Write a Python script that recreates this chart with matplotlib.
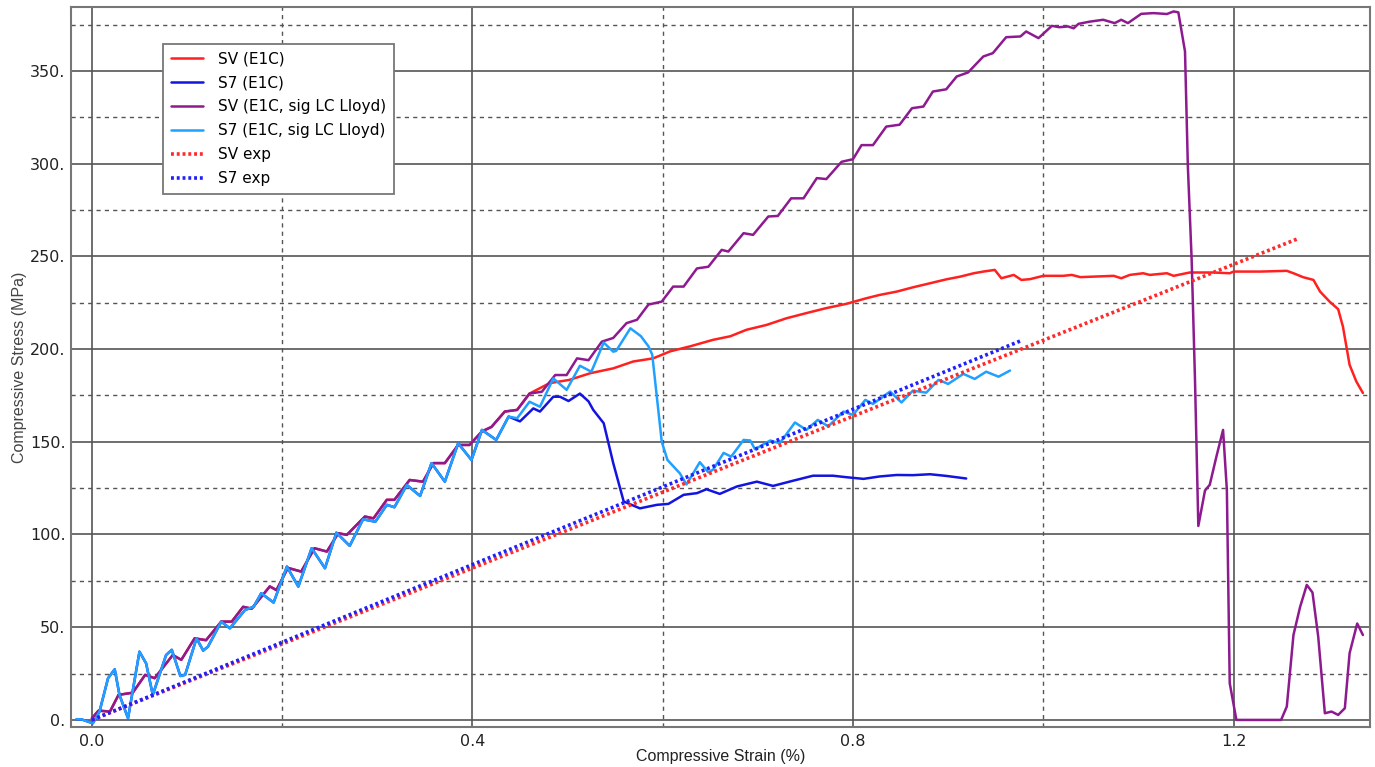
import matplotlib
matplotlib.use('Agg')
import matplotlib.pyplot as plt
from matplotlib.ticker import MultipleLocator, FuncFormatter

# SV curves share the first part (E1C and sig LC Lloyd overlap)
sv_common_x = [0, 0.007, 0.019, 0.028, 0.043, 0.056, 0.066, 0.085, 0.094, 0.108, 0.12, 0.136, 0.147,
               0.159, 0.168, 0.187, 0.194, 0.206, 0.22, 0.234, 0.247, 0.259, 0.268, 0.287, 0.296, 0.31,
               0.318, 0.334, 0.348, 0.359, 0.371, 0.385, 0.397, 0.41, 0.42, 0.434, 0.447, 0.46]
sv_common_y = [0.9, 5, 4.5, 13.5, 14.7, 24.3, 22.5, 35, 32.4, 44, 43, 53, 53, 61, 60, 72, 70, 82, 80,
               92.6, 90.8, 100.7, 99.8, 109.7, 108.7, 118.7, 118.7, 129.4, 128.5, 138.5, 138.5, 148.3,
               148.3, 155.6, 158, 166.3, 167.2, 176]

sv_tail_x = [0.481, 0.502, 0.524, 0.548, 0.569, 0.59, 0.608, 0.629, 0.653, 0.671, 0.688, 0.709, 0.73,
             0.751, 0.772, 0.793, 0.814, 0.828, 0.846, 0.863, 0.881, 0.898, 0.913, 0.927, 0.937, 0.949,
             0.956, 0.969, 0.977, 0.986, 1.0, 1.021, 1.03, 1.039, 1.074, 1.082, 1.091, 1.105, 1.112,
             1.13, 1.137, 1.154, 1.179, 1.196, 1.2, 1.228, 1.256, 1.263, 1.273, 1.284, 1.291, 1.301,
             1.31, 1.315, 1.322, 1.329, 1.336]
sv_tail_y = [181.6, 183.4, 187, 189.6, 193.3, 195, 198.8, 201.5, 205, 206.9, 210.4, 213, 216.6, 219.4,
             222.1, 224.4, 227.4, 229.2, 231, 233.3, 235.5, 237.6, 239.1, 240.9, 241.8, 242.7, 238.2,
             240, 237.3, 237.7, 239.5, 239.5, 240, 238.8, 239.5, 238.2, 240, 240.9, 240, 240.9, 239.5,
             241.3, 241.3, 240.9, 241.8, 241.8, 242.2, 240.9, 238.8, 237.3, 231, 225.6, 221.5, 212.1,
             191.5, 182.6, 176.3]

svl_tail_x = [0.473, 0.487, 0.499, 0.51, 0.522, 0.536, 0.548, 0.562, 0.573, 0.585, 0.599, 0.611, 0.622,
              0.636, 0.648, 0.662, 0.669, 0.685, 0.695, 0.711, 0.721, 0.735, 0.748, 0.762, 0.772, 0.788,
              0.8, 0.809, 0.821, 0.835, 0.849, 0.862, 0.874, 0.884, 0.898, 0.909, 0.921, 0.937, 0.947,
              0.961, 0.976, 0.982, 0.995, 1.009, 1.017, 1.026, 1.032, 1.037, 1.049, 1.063, 1.075, 1.082,
              1.089, 1.103, 1.116, 1.13, 1.137, 1.142, 1.149, 1.152, 1.156, 1.1595, 1.163, 1.17, 1.175,
              1.182, 1.189, 1.193, 1.196, 1.203, 1.25, 1.256, 1.263, 1.27, 1.277, 1.283, 1.289, 1.296,
              1.303, 1.31, 1.317, 1.322, 1.33, 1.336]
svl_tail_y = [177, 186, 186, 195, 194, 204, 206, 214, 215.8, 224, 225.6, 233.7, 233.7, 243.5, 244.4,
              253.5, 252.6, 262.5, 261.6, 271.5, 271.8, 281.3, 281.3, 292.2, 291.7, 301, 302.4, 310, 310,
              320, 321, 329.9, 330.8, 338.9, 340.1, 347, 349.2, 357.8, 359.6, 368.2, 368.6, 371.3, 367.7,
              374.3, 373.6, 374, 373, 375.4, 376.6, 377.6, 375.8, 377.6, 375.8, 380.8, 381.2, 380.7,
              382.1, 381.6, 360.5, 298.5, 248, 183.4, 104.6, 123.7, 126.8, 142, 156.4, 124, 19.8, 0, 0,
              7.2, 45.8, 61, 72.8, 68.7, 45, 3.6, 4.5, 2.7, 6.3, 36, 52, 45.8]

# S7 curves share the first part
s7_common_x = [-0.016, -0.011, 0.001, 0.008, 0.017, 0.024, 0.029, 0.038, 0.05, 0.057, 0.064, 0.078,
               0.084, 0.093, 0.098, 0.11, 0.117, 0.122, 0.136, 0.145, 0.161, 0.17, 0.178, 0.191, 0.205,
               0.217, 0.231, 0.245, 0.257, 0.271, 0.285, 0.298, 0.31, 0.318, 0.331, 0.345, 0.357, 0.371,
               0.385, 0.399, 0.41, 0.425, 0.438]
s7_common_y = [0.4, 0.3, -1.8, 4.5, 22.5, 27.3, 13.5, 0.9, 36.8, 30.5, 13.5, 35, 37.8, 23.7, 24.3, 44,
               37.4, 39.5, 53, 49.4, 59.3, 61, 68.3, 63.3, 82.7, 71.9, 92.6, 81.8, 101, 93.9, 108.2,
               106.9, 116, 114.7, 126.7, 120.8, 138.5, 128.5, 149.2, 140.2, 156.4, 151, 163.6]

s7_tail_x = [0.45, 0.464, 0.471, 0.485, 0.492, 0.501, 0.513, 0.522, 0.527, 0.538, 0.548, 0.559, 0.576,
             0.594, 0.606, 0.622, 0.636, 0.646, 0.66, 0.678, 0.699, 0.716, 0.737, 0.758, 0.779, 0.793,
             0.811, 0.828, 0.846, 0.863, 0.881, 0.898, 0.919]
s7_tail_y = [161, 168, 166.3, 174.3, 174.3, 172, 176, 171.8, 167.2, 160, 138.5, 117.8, 114.1, 116,
             116.5, 121.4, 122.3, 124.4, 121.9, 125.9, 128.5, 126.2, 129, 131.7, 131.7, 130.9, 130,
             131.3, 132.1, 132, 132.5, 131.6, 130.2]

s7l_tail_x = [0.447, 0.46, 0.471, 0.485, 0.499, 0.513, 0.525, 0.538, 0.548, 0.551, 0.566, 0.577, 0.585,
              0.589, 0.599, 0.605, 0.618, 0.625, 0.639, 0.648, 0.653, 0.664, 0.672, 0.685, 0.692, 0.697,
              0.713, 0.723, 0.739, 0.751, 0.763, 0.774, 0.79, 0.8, 0.813, 0.821, 0.839, 0.851, 0.863,
              0.877, 0.89, 0.9, 0.916, 0.928, 0.94, 0.953, 0.965]
s7l_tail_y = [162.7, 171.6, 168.9, 184.2, 178, 191, 187.8, 203.5, 198.6, 199, 211.2, 207, 201.5, 197,
              150, 140.2, 133, 127, 139, 133.5, 135, 144, 142, 151, 150.7, 146, 150.7, 149.2, 160.4,
              156.4, 161.8, 158.3, 166.3, 164.5, 172.6, 170.4, 177.1, 171.2, 177.6, 176.5, 183.4, 181.2,
              186.6, 183.9, 187.8, 185.1, 188.4]

sv_exp_x = [0, 1.267]
sv_exp_y = [0, 259.4]
s7_exp_x = [0, 0.976]
s7_exp_y = [0, 204.4]

fig = plt.figure(figsize=(13.75, 7.67), dpi=100)
ax = fig.add_axes([0.0516, 0.0522, 0.9448, 0.9387])

kw = dict(lw=1.8, solid_joinstyle='round', solid_capstyle='round')
ax.plot(sv_common_x + sv_tail_x, sv_common_y + sv_tail_y, color='#ff2020', label='SV (E1C)', **kw)
ax.plot(s7_common_x + s7_tail_x, s7_common_y + s7_tail_y, color='#1414e0', label='S7 (E1C)', **kw)
ax.plot(sv_common_x + svl_tail_x, sv_common_y + svl_tail_y, color='#8e1a90',
        label='SV (E1C, sig LC Lloyd)', **kw)
ax.plot(s7_common_x + s7l_tail_x, s7_common_y + s7l_tail_y, color='#20a0ff',
        label='S7 (E1C, sig LC Lloyd)', **kw)
ax.plot(sv_exp_x, sv_exp_y, color='#ff2a2a', lw=2.6, ls=(0, (0.8, 0.8)), label='SV exp')
ax.plot(s7_exp_x, s7_exp_y, color='#2020ff', lw=2.6, ls=(0, (0.8, 0.8)), label='S7 exp')

ax.set_xlim(-0.022, 1.3435)
ax.set_ylim(-3.8, 384.5)

ax.xaxis.set_major_locator(MultipleLocator(0.4))
ax.xaxis.set_minor_locator(MultipleLocator(0.2))
ax.yaxis.set_major_locator(MultipleLocator(50))
ax.yaxis.set_minor_locator(MultipleLocator(25))
ax.xaxis.set_major_formatter(FuncFormatter(lambda v, p: f'{v:.1f}'))
ax.yaxis.set_major_formatter(FuncFormatter(lambda v, p: f'{int(round(v))}.'))

ax.grid(which='major', color='#555555', lw=1.2, ls='-')
ax.grid(which='minor', color='#555555', lw=1.0, ls=(0, (3, 3)))
ax.set_axisbelow(True)
ax.tick_params(which='both', length=0, labelsize=11.5, colors='#222222')
ax.tick_params(axis='y', pad=4)
ax.tick_params(axis='x', pad=5)
for s in ax.spines.values():
    s.set_color('#777777')
    s.set_linewidth(1.5)

ax.set_xlabel('Compressive Strain (%)', family='Liberation Sans', fontsize=11.5, color='#222222',
              labelpad=0)
ax.set_ylabel('Compressive Stress (MPa)', family='Liberation Sans', fontsize=11.5, color='#444444',
              labelpad=2)

leg = ax.legend(loc='upper left', bbox_to_anchor=(0.0708, 0.9486), fontsize=11, fancybox=False,
                framealpha=1, edgecolor='#777777', handlelength=2.1, labelspacing=0.58,
                borderpad=0.5, handletextpad=1.0, borderaxespad=0)
leg.get_frame().set_linewidth(1.3)

fig.savefig('out.png', dpi=100)
